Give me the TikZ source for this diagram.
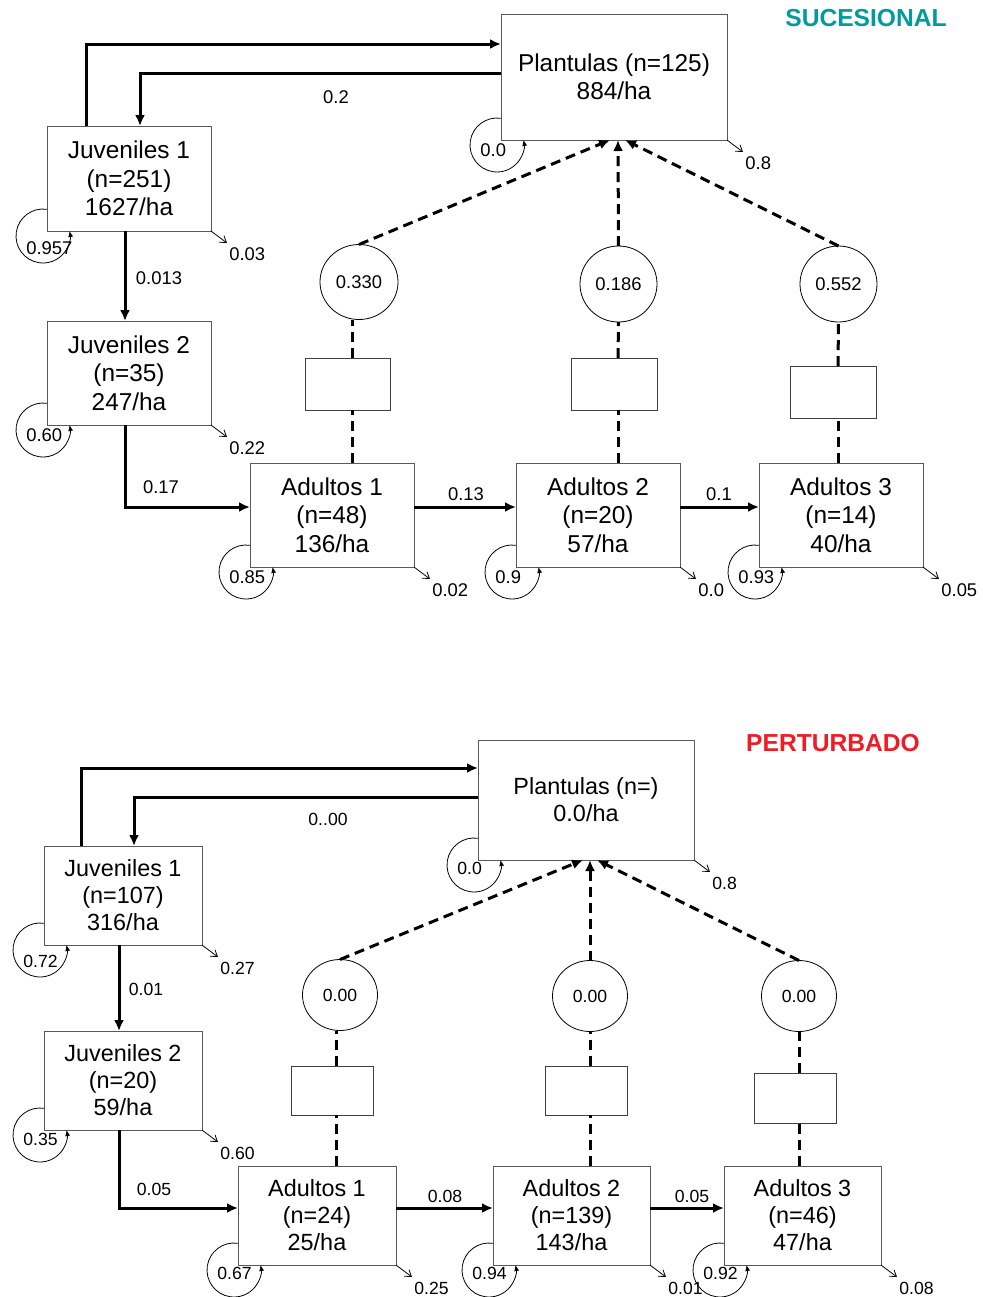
\documentclass[tikz,border=0pt]{standalone}
\usepackage{fontspec}
\setmainfont{Liberation Sans}
\usetikzlibrary{arrows.meta,shapes.geometric}

\definecolor{sucteal}{HTML}{009C9C}
\definecolor{perred}{HTML}{EE1C25}

\tikzset{
  stage/.style={draw=black!65, line width=0.5pt, fill=white, inner sep=0pt, outer sep=0pt, align=center},
  blank/.style={draw=black!75, line width=0.5pt, fill=white, inner sep=0pt, outer sep=0pt},
  prob/.style={ellipse, draw, line width=0.4pt, inner sep=0pt, outer sep=0pt},
  val/.style={inner sep=0pt},
  flow/.style={line width=1.5pt, -{Latex[length=5.5pt,width=5pt]}},
  fec/.style={line width=1.5pt, dash pattern=on 5pt off 3pt, -{Latex[length=5.5pt,width=5pt]}},
  fecline/.style={line width=1.5pt, dash pattern=on 5pt off 3pt},
  loss/.style={line width=0.4pt, -{Straight Barb[length=3pt,width=4pt]}},
  stay/.style={line width=0.4pt, -{Latex[length=3pt,width=2.5pt]}},
  title/.style={font=\fontsize{12.3}{14}\selectfont\bfseries}
}

\begin{document}
\begin{tikzpicture}[x=0.5pt, y=-0.5pt]

\useasboundingbox (0,0) rectangle (983,1297);

% ---------------- sucesional ----------------
\begin{scope}[stage/.append style={font=\fontsize{12.2}{14.2}\selectfont},
              val/.append style={font=\fontsize{9.2}{11}\selectfont},
              prob/.append style={font=\fontsize{9.2}{11}\selectfont}]

\node[title, text=sucteal] (stit) at (866,18) {SUCESIONAL};

\node[stage, minimum width=113pt, minimum height=63pt] (spl) at (614,77) {Plantulas (n=125)\\884/ha};
\node[stage, minimum width=82pt, minimum height=52.5pt] (sju1) at (129,178.5) {Juveniles 1\\(n=251)\\1627/ha};
\node[stage, minimum width=82pt, minimum height=52pt] (sju2) at (129,373) {Juveniles 2\\(n=35)\\247/ha};
\node[stage, minimum width=82pt, minimum height=52pt] (sad1) at (332,515) {Adultos 1\\(n=48)\\136/ha};
\node[stage, minimum width=82pt, minimum height=52pt] (sad2) at (598,515) {Adultos 2\\(n=20)\\57/ha};
\node[stage, minimum width=82pt, minimum height=52pt] (sad3) at (841,515) {Adultos 3\\(n=14)\\40/ha};

\node[prob, minimum width=39pt, minimum height=37.5pt] (sel1) at (359,282) {0.330};
\node[prob, minimum width=38.5pt, minimum height=38pt] (sel2) at (618.5,284) {0.186};
\node[prob, minimum width=38.5pt, minimum height=38pt] (sel3) at (838.5,284) {0.552};

\node[blank, minimum width=42.5pt, minimum height=26pt] (ssq1) at (347.5,384) {};
\node[blank, minimum width=43pt, minimum height=26pt] (ssq2) at (614,384) {};
\node[blank, minimum width=43pt, minimum height=26pt] (ssq3) at (833,392) {};

% transitions
\draw[flow] ([xshift=19.5pt]sju1.north west) |- ([yshift=-15pt]spl.north west);
\draw[flow] ([yshift=-29.5pt]spl.north west) -| ([xshift=46.5pt]sju1.north west);
\node[val] (sv0) at (336,97) {0.2};
\draw[flow] ([xshift=-2pt]sju1.south) -- ([xshift=-2pt]sju2.north);
\node[val] (sv1) at (159,278) {0.013};
\draw[flow] ([xshift=-2pt]sju2.south) |- ([yshift=4pt]sad1.west);
\node[val] (sv2) at (161,487) {0.17};
\draw[flow] ([yshift=4pt]sad1.east) -- ([yshift=4pt]sad2.west);
\node[val] (sv3) at (466,494) {0.13};
\draw[flow] ([yshift=4pt]sad2.east) -- ([yshift=4pt]sad3.west);
\node[val] (sv4) at (719,494) {0.1};

% fecundity
\draw[fecline] ([xshift=10pt]sad1.north) -- ([xshift=2.25pt]ssq1.south);
\draw[fecline] ([xshift=2.25pt]ssq1.north) -- ([xshift=-3.5pt]sel1.south);
\draw[fec] (sel1.north) -- ([xshift=-2pt]spl.south);
\draw[fecline] ([xshift=10pt]sad2.north) -- ([xshift=2pt]ssq2.south);
\draw[fecline] ([xshift=2pt]ssq2.north) -- (sel2.south);
\draw[fec] (sel2.north) -- ([xshift=2pt]spl.south);
\draw[fecline] ([xshift=-1.5pt]sad3.north) -- ([xshift=2.5pt]ssq3.south);
\draw[fecline] ([xshift=2.5pt]ssq3.north) -- (sel3.south);
\draw[fec] (sel3.north) -- ([xshift=5.5pt]spl.south);

% stasis and loss
\foreach \n/\v/\d in {spl/0.0/5pt, sju1/0.957/8.5pt, sju2/0.60/5pt, sad1/0.85/5pt, sad2/0.9/5pt, sad3/0.93/5pt}{
  \draw[stay] ([yshift=10.85pt]\n.south west) arc[start angle=81.5, end angle=370.7, radius=13.5pt];
  \node[val, anchor=west] (r\n) at ([shift={(-10.5pt,-\d)}]\n.south west) {\v};
}
\foreach \n/\v in {spl/0.8, sju1/0.03, sju2/0.22, sad1/0.02, sad2/0.0, sad3/0.05}{
  \draw[loss] (\n.south east) -- ++(8pt,-6pt);
  \node[val, anchor=west] (o\n) at ([shift={(9pt,-11.5pt)}]\n.south east) {\v};
}
\end{scope}

% ---------------- perturbado ----------------
\begin{scope}[stage/.append style={font=\fontsize{11.7}{13.5}\selectfont},
              val/.append style={font=\fontsize{8.8}{10.5}\selectfont},
              prob/.append style={font=\fontsize{8.8}{10.5}\selectfont}]

\node[title, text=perred] (ptit) at (833,743) {PERTURBADO};

\node[stage, minimum width=108pt, minimum height=60pt] (ppl) at (586,800) {Plantulas (n=)\\0.0/ha};
\node[stage, minimum width=79pt, minimum height=49.5pt] (pju1) at (123,895.5) {Juveniles 1\\(n=107)\\316/ha};
\node[stage, minimum width=79pt, minimum height=49.5pt] (pju2) at (123,1080.5) {Juveniles 2\\(n=20)\\59/ha};
\node[stage, minimum width=79pt, minimum height=49.5pt] (pad1) at (317,1215.5) {Adultos 1\\(n=24)\\25/ha};
\node[stage, minimum width=78.5pt, minimum height=49.5pt] (pad2) at (571.5,1215.5) {Adultos 2\\(n=139)\\143/ha};
\node[stage, minimum width=78.5pt, minimum height=49.5pt] (pad3) at (802.5,1215.5) {Adultos 3\\(n=46)\\47/ha};

\node[prob, minimum width=37.5pt, minimum height=35.5pt] (pel1) at (340,995) {0.00};
\node[prob, minimum width=37.5pt, minimum height=35.5pt] (pel2) at (590,996) {0.00};
\node[prob, minimum width=37.5pt, minimum height=35.5pt] (pel3) at (799,996) {0.00};

\node[blank, minimum width=41pt, minimum height=24.5pt] (psq1) at (332,1090.5) {};
\node[blank, minimum width=41pt, minimum height=24.5pt] (psq2) at (586,1090.5) {};
\node[blank, minimum width=41pt, minimum height=25pt] (psq3) at (795,1098) {};

% transitions
\draw[flow] ([xshift=18.5pt]pju1.north west) |- ([yshift=-14pt]ppl.north west);
\draw[flow] ([yshift=-28.5pt]ppl.north west) -| ([xshift=45pt]pju1.north west);
\node[val] (pv0) at (328,819) {0..00};
\draw[flow] ([xshift=-2pt]pju1.south) -- ([xshift=-2pt]pju2.north);
\node[val] (pv1) at (146,989) {0.01};
\draw[flow] ([xshift=-2pt]pju2.south) |- ([yshift=3.75pt]pad1.west);
\node[val] (pv2) at (154,1189) {0.05};
\draw[flow] ([yshift=3.75pt]pad1.east) -- ([yshift=3.75pt]pad2.west);
\node[val] (pv3) at (445,1196) {0.08};
\draw[flow] ([yshift=3.75pt]pad2.east) -- ([yshift=3.75pt]pad3.west);
\node[val] (pv4) at (692,1196) {0.05};

% fecundity
\draw[fecline] ([xshift=9.5pt]pad1.north) -- ([xshift=2pt]psq1.south);
\draw[fecline] ([xshift=2pt]psq1.north) -- ([xshift=-2pt]pel1.south);
\draw[fec] (pel1.north) -- ([xshift=-1.5pt]ppl.south);
\draw[fecline] ([xshift=9.25pt]pad2.north) -- ([xshift=2pt]psq2.south);
\draw[fecline] ([xshift=2pt]psq2.north) -- (pel2.south);
\draw[fec] (pel2.north) -- ([xshift=2pt]ppl.south);
\draw[fecline] ([xshift=-1.75pt]pad3.north) -- ([xshift=2pt]psq3.south);
\draw[fecline] ([xshift=2pt]psq3.north) -- (pel3.south);
\draw[fec] (pel3.north) -- ([xshift=5.5pt]ppl.south);

% stasis and loss
\foreach \n/\v/\d in {ppl/0.0/4pt, pju1/0.72/8pt, pju2/0.35/4.5pt, pad1/0.67/4pt, pad2/0.94/4pt, pad3/0.92/4pt}{
  \draw[stay] ([yshift=10.85pt]\n.south west) arc[start angle=81.5, end angle=370.7, radius=13.5pt];
  \node[val, anchor=west] (r\n) at ([shift={(-10.5pt,-\d)}]\n.south west) {\v};
}
\foreach \n/\v in {ppl/0.8, pju1/0.27, pju2/0.60, pad1/0.25, pad2/0.01, pad3/0.08}{
  \draw[loss] (\n.south east) -- ++(8pt,-6pt);
  \node[val, anchor=west] (o\n) at ([shift={(9pt,-11.5pt)}]\n.south east) {\v};
}
\end{scope}

\end{tikzpicture}
\end{document}
